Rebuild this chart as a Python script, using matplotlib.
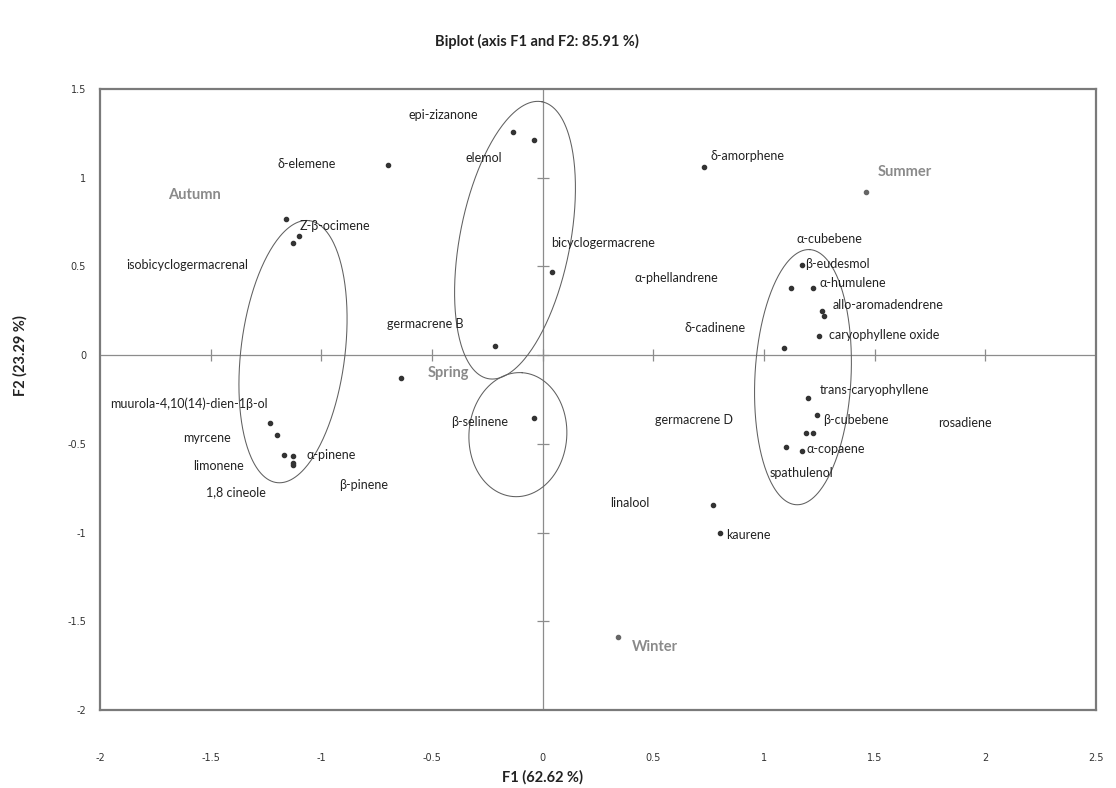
import numpy as np
import matplotlib
matplotlib.use("Agg")
import matplotlib.pyplot as plt

plt.rcParams['font.family'] = ['Lato', 'DejaVu Sans']

# Compound scores on F1 / F2
point_x = [-0.70, -1.16, -1.10, -1.13, -1.23, -1.20, -1.17, -1.13, -1.13, -1.13,
           -0.64, -0.135, -0.04, 0.04, -0.215, -0.04, 0.73, 1.17, 1.12, 1.22,
           1.26, 1.27, 1.25, 1.09, 1.20, 1.24, 1.19, 1.22, 1.10, 1.17, 0.77, 0.80]
point_y = [1.07, 0.77, 0.67, 0.63, -0.38, -0.45, -0.56, -0.57, -0.61, -0.62,
           -0.13, 1.26, 1.21, 0.47, 0.05, -0.355, 1.06, 0.51, 0.38, 0.38,
           0.25, 0.22, 0.11, 0.04, -0.24, -0.34, -0.44, -0.44, -0.52, -0.54, -0.845, -1.00]

# Season observations
season_x = [1.46, 0.34]
season_y = [0.92, -1.59]

# Compound labels (x, y give the left edge / vertical centre)
labels = ["epi-zizanone", "δ-elemene", "elemol", "δ-amorphene", "Z-β-ocimene",
          "α-cubebene", "bicyclogermacrene", "isobicyclogermacrenal", "β-eudesmol",
          "α-phellandrene", "α-humulene", "allo-aromadendrene", "germacrene B",
          "δ-cadinene", "caryophyllene oxide", "trans-caryophyllene",
          "muurola-4,10(14)-dien-1β-ol", "germacrene D", "β-cubebene", "β-selinene",
          "rosadiene", "myrcene", "α-pinene", "α-copaene", "limonene", "spathulenol",
          "β-pinene", "1,8 cineole", "linalool", "kaurene"]
label_x = [-0.608, -1.20, -0.347, 0.757, -1.096,
           1.145, 0.038, -1.883, 1.186,
           0.413, 1.25, 1.31, -0.704,
           0.643, 1.295, 1.25,
           -1.955, 0.507, 1.267, -0.414,
           1.786, -1.625, -1.065, 1.19, -1.58, 1.023,
           -0.921, -1.52, 0.304, 0.829]
label_y = [1.353, 1.077, 1.11, 1.122, 0.727,
           0.654, 0.63, 0.507, 0.513,
           0.434, 0.406, 0.28, 0.175,
           0.152, 0.113, -0.197,
           -0.276, -0.366, -0.366, -0.378,
           -0.383, -0.468, -0.564, -0.53, -0.626, -0.665,
           -0.73, -0.772, -0.834, -1.015]

seasons = ["Summer", "Autumn", "Spring", "Winter"]
season_lx = [1.515, -1.693, -0.518, 0.404]
season_ly = [1.03, 0.90, -0.10, -1.646]

# Group ellipses: centre, half length (F2 units), half width (F1 units), tilt in degrees
ell_cx = [-1.128, -0.125, -0.112, 1.176]
ell_cy = [0.020, 0.648, -0.448, -0.124]
ell_a = [0.744, 0.795, 0.350, 0.720]
ell_b = [0.235, 0.249, 0.221, 0.217]
ell_tilt = [7, 11, 4, 3]

xticks = [-2, -1.5, -1, -0.5, 0, 0.5, 1, 1.5, 2, 2.5]
yticks = [-2, -1.5, -1, -0.5, 0, 0.5, 1, 1.5]

fig = plt.figure(figsize=(11.16, 7.88), dpi=100)
ax = fig.add_axes([0.0896, 0.099, 0.8925, 0.788])
ax.set_xlim(-2, 2.5)
ax.set_ylim(-2, 1.5)

grey = '#8c8c8c'
for s in ax.spines.values():
    s.set_color('#7a7a7a')
    s.set_linewidth(1.6)

ax.set_xticks(xticks)
ax.set_yticks(yticks)
ax.set_xticklabels([f"{t:g}" for t in xticks], family='DejaVu Sans')
ax.set_yticklabels([f"{t:g}" for t in yticks], family='DejaVu Sans')
ax.tick_params(axis='x', length=0, pad=31, labelsize=7, labelcolor='#333333')
ax.tick_params(axis='y', length=0, pad=10, labelsize=7, labelcolor='#333333')

# Axes through the origin with small cross ticks
ax.axhline(0, color=grey, lw=0.9, zorder=1)
ax.axvline(0, color=grey, lw=0.9, zorder=1)
ax.plot(xticks[1:-1], [0] * len(xticks[1:-1]), ls='none', marker='|', ms=8, mew=0.9, color=grey, zorder=1)
ax.plot([0] * len(yticks[1:-1]), yticks[1:-1], ls='none', marker='_', ms=8, mew=0.9, color=grey, zorder=1)

# Ellipses drawn in screen proportions
bbox = ax.get_window_extent()
sx = bbox.width / 4.5
sy = bbox.height / 3.5
t = np.linspace(0, 2 * np.pi, 300)
for cx, cy, a, b, tilt in zip(ell_cx, ell_cy, ell_a, ell_b, ell_tilt):
    phi = np.radians(tilt)
    ap, bp = a * sy, b * sx
    px = ap * np.cos(t) * np.sin(phi) + bp * np.sin(t) * np.cos(phi)
    py = ap * np.cos(t) * np.cos(phi) - bp * np.sin(t) * np.sin(phi)
    ax.plot(cx + px / sx, cy + py / sy, color='#606060', lw=0.75, zorder=2)

ax.plot(point_x, point_y, ls='none', marker='o', ms=3, color='#333333', zorder=3)
ax.plot(season_x, season_y, ls='none', marker='o', ms=3, color='#666666', zorder=3)

for name, x, y in zip(labels, label_x, label_y):
    ax.text(x, y, name, fontsize=9, color='#222222', ha='left', va='center', zorder=4)

for name, x, y in zip(seasons, season_lx, season_ly):
    ax.text(x, y, name, fontsize=10.5, fontweight='bold', color='#8a8a8a', ha='left', va='center', zorder=4)

fig.text(0.481, 0.947, "Biplot (axis F1 and F2: 85.91 %)", ha='center', va='center',
         fontsize=10.5, fontweight='bold', color='#222222')
fig.text(0.486, 0.014, "F1 (62.62 %)", ha='center', va='center',
         fontsize=10.5, fontweight='bold', color='#222222')
fig.text(0.018, 0.549, "F2 (23.29 %)", ha='center', va='center', rotation=90,
         fontsize=10.5, fontweight='bold', color='#222222')

fig.savefig("out.png", dpi=100)
